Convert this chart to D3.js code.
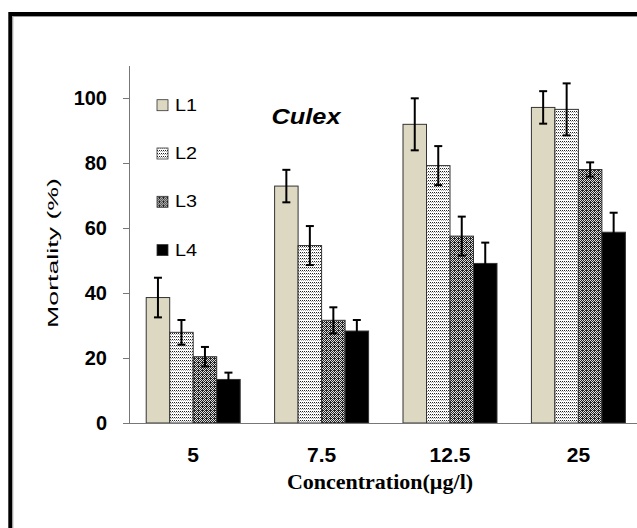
<!DOCTYPE html>
<html>
<head>
<meta charset="utf-8">
<script src="https://cdn.jsdelivr.net/npm/d3@7"></script>
<style>
  body { margin: 0; background: #fff; }
  svg { display: block; }
  text { font-family: "Liberation Sans", Arial, sans-serif; fill: #000; }
</style>
</head>
<body>
<svg width="637" height="528"></svg>
<script>
const concentrations = ["5", "7.5", "12.5", "25"];
const larvae = ["L1", "L2", "L3", "L4"];

// mortality (%) per concentration, one array per instar
const mortL1 = [38.6, 72.9, 91.9, 97.1];
const mortL2 = [27.9, 54.6, 79.2, 96.5];
const mortL3 = [20.4, 31.6, 57.5, 78.0];
const mortL4 = [13.4, 28.3, 49.1, 58.7];

// +/- error bars
const errL1 = [6.1, 5.0, 8.0, 5.0];
const errL2 = [3.8, 6.0, 6.0, 8.0];
const errL3 = [3.0, 4.0, 6.0, 2.2];
const errL4 = [2.1, 3.4, 6.4, 6.0];

const yTicks = [0, 20, 40, 60, 80, 100];

const svg = d3.select("svg");
const width = +svg.attr("width");
const height = +svg.attr("height");

const means = [mortL1, mortL2, mortL3, mortL4];
const errs = [errL1, errL2, errL3, errL4];

const data = [];
concentrations.forEach((c, i) => {
  larvae.forEach((l, j) => {
    data.push({ conc: c, larva: l, value: means[j][i], err: errs[j][i] });
  });
});

// patterns for L2 / L3
const defs = svg.append("defs");
const p2 = defs.append("pattern")
  .attr("id", "dots")
  .attr("patternUnits", "userSpaceOnUse")
  .attr("width", 2).attr("height", 3);
p2.append("rect").attr("width", 2).attr("height", 3).attr("fill", "#fff");
p2.append("rect").attr("x", 0).attr("y", 0).attr("width", 1).attr("height", 1).attr("fill", "#222");
p2.append("rect").attr("x", 1).attr("y", 1).attr("width", 1).attr("height", 1).attr("fill", "#aaa");

const p3 = defs.append("pattern")
  .attr("id", "checker")
  .attr("patternUnits", "userSpaceOnUse")
  .attr("width", 4).attr("height", 4);
p3.append("rect").attr("width", 4).attr("height", 4).attr("fill", "#222");
[[0, 0], [2, 0], [1, 1], [3, 1], [0, 2], [3, 3], [1, 3]].forEach(([x, y]) => {
  p3.append("rect").attr("x", x).attr("y", y).attr("width", 1).attr("height", 1).attr("fill", "#ddd");
});

const fills = {
  L1: "#ddd8c2",
  L2: "url(#dots)",
  L3: "url(#checker)",
  L4: "#000"
};

// outer frame
svg.append("rect")
  .attr("x", 10.3).attr("y", 14)
  .attr("width", width + 20).attr("height", height + 20)
  .attr("fill", "none")
  .attr("stroke", "#000")
  .attr("stroke-width", 4);
svg.append("rect")
  .attr("x", 12.8).attr("y", 16.5)
  .attr("width", width + 20).attr("height", height + 20)
  .attr("fill", "none")
  .attr("stroke", "#999")
  .attr("stroke-width", 1);

const x0 = 129;
const y0 = 423;
const step = 128.4;

const xScale = d3.scaleBand()
  .domain(concentrations)
  .range([x0, x0 + step * concentrations.length])
  .paddingInner(0.268)
  .paddingOuter(0.134);

const xInner = d3.scaleBand()
  .domain(larvae)
  .range([0, xScale.bandwidth()]);

const yScale = d3.scaleLinear()
  .domain([0, 110])
  .range([y0, 65.5]);

// bars
const bars = svg.append("g");
bars.selectAll("rect")
  .data(data)
  .enter()
  .append("rect")
  .attr("x", d => xScale(d.conc) + xInner(d.larva))
  .attr("y", d => yScale(d.value))
  .attr("width", xInner.bandwidth())
  .attr("height", d => y0 - yScale(d.value))
  .attr("fill", d => fills[d.larva])
  .attr("stroke", "#333")
  .attr("stroke-width", 1);

// error bars
const errG = svg.append("g")
  .attr("stroke", "#000")
  .attr("stroke-width", 2);
const cx = d => xScale(d.conc) + xInner(d.larva) + xInner.bandwidth() / 2;
errG.selectAll(".stem")
  .data(data)
  .enter()
  .append("line")
  .attr("x1", cx).attr("x2", cx)
  .attr("y1", d => yScale(d.value + d.err))
  .attr("y2", d => yScale(d.value - d.err));
errG.selectAll(".capTop")
  .data(data)
  .enter()
  .append("line")
  .attr("x1", d => cx(d) - 4).attr("x2", d => cx(d) + 4)
  .attr("y1", d => yScale(d.value + d.err))
  .attr("y2", d => yScale(d.value + d.err));
errG.selectAll(".capBot")
  .data(data)
  .enter()
  .append("line")
  .attr("x1", d => cx(d) - 4).attr("x2", d => cx(d) + 4)
  .attr("y1", d => yScale(d.value - d.err))
  .attr("y2", d => yScale(d.value - d.err));

// y axis
const yAxis = d3.axisLeft(yScale)
  .tickValues(yTicks)
  .tickSize(6)
  .tickPadding(16)
  .tickSizeOuter(0);
const yAxisG = svg.append("g")
  .attr("transform", `translate(${x0},0)`)
  .call(yAxis);
yAxisG.selectAll(".domain, line").attr("stroke", "#777");
yAxisG.selectAll("text")
  .style("font-family", "Liberation Sans, Arial, sans-serif")
  .style("font-size", "20px")
  .style("font-weight", "bold")
  .attr("fill", "#000");

// x axis
const xAxis = d3.axisBottom(xScale)
  .tickSize(0)
  .tickPadding(24)
  .tickSizeOuter(0);
const xAxisG = svg.append("g")
  .attr("transform", `translate(0,${y0})`)
  .call(xAxis);
xAxisG.select(".domain")
  .attr("d", `M${x0},0.5H${width}`)
  .attr("stroke", "#777");
xAxisG.selectAll("text")
  .style("font-family", "Liberation Sans, Arial, sans-serif")
  .style("font-size", "21px")
  .style("font-weight", "bold")
  .attr("fill", "#000");

// axis titles
svg.append("text")
  .attr("x", 380)
  .attr("y", 489)
  .attr("text-anchor", "middle")
  .style("font-family", "Liberation Serif, Times New Roman, serif")
  .style("font-size", "22px")
  .style("font-weight", "bold")
  .text("Concentration(µg/l)");

svg.append("text")
  .attr("transform", "translate(58,253) rotate(-90)")
  .attr("text-anchor", "middle")
  .attr("textLength", 150)
  .attr("lengthAdjust", "spacingAndGlyphs")
  .style("font-size", "15px")
  .text("Mortality (%)");

// title
svg.append("text")
  .attr("x", 271.5)
  .attr("y", 124)
  .attr("textLength", 69)
  .attr("lengthAdjust", "spacingAndGlyphs")
  .style("font-size", "22px")
  .style("font-weight", "bold")
  .style("font-style", "italic")
  .text("Culex");

// legend
const legend = svg.selectAll(".legend")
  .data(larvae)
  .enter()
  .append("g")
  .attr("class", "legend")
  .attr("transform", (d, i) => `translate(157,${110.7 + i * 48.3})`);
legend.append("rect")
  .attr("x", 0)
  .attr("y", -11)
  .attr("width", 11)
  .attr("height", 11)
  .attr("fill", d => fills[d])
  .attr("stroke", "#333")
  .attr("stroke-width", 0.8);
legend.append("text")
  .attr("x", 18)
  .attr("y", 0)
  .attr("textLength", 22)
  .attr("lengthAdjust", "spacingAndGlyphs")
  .style("font-size", "17px")
  .text(d => d);
</script>
</body>
</html>
